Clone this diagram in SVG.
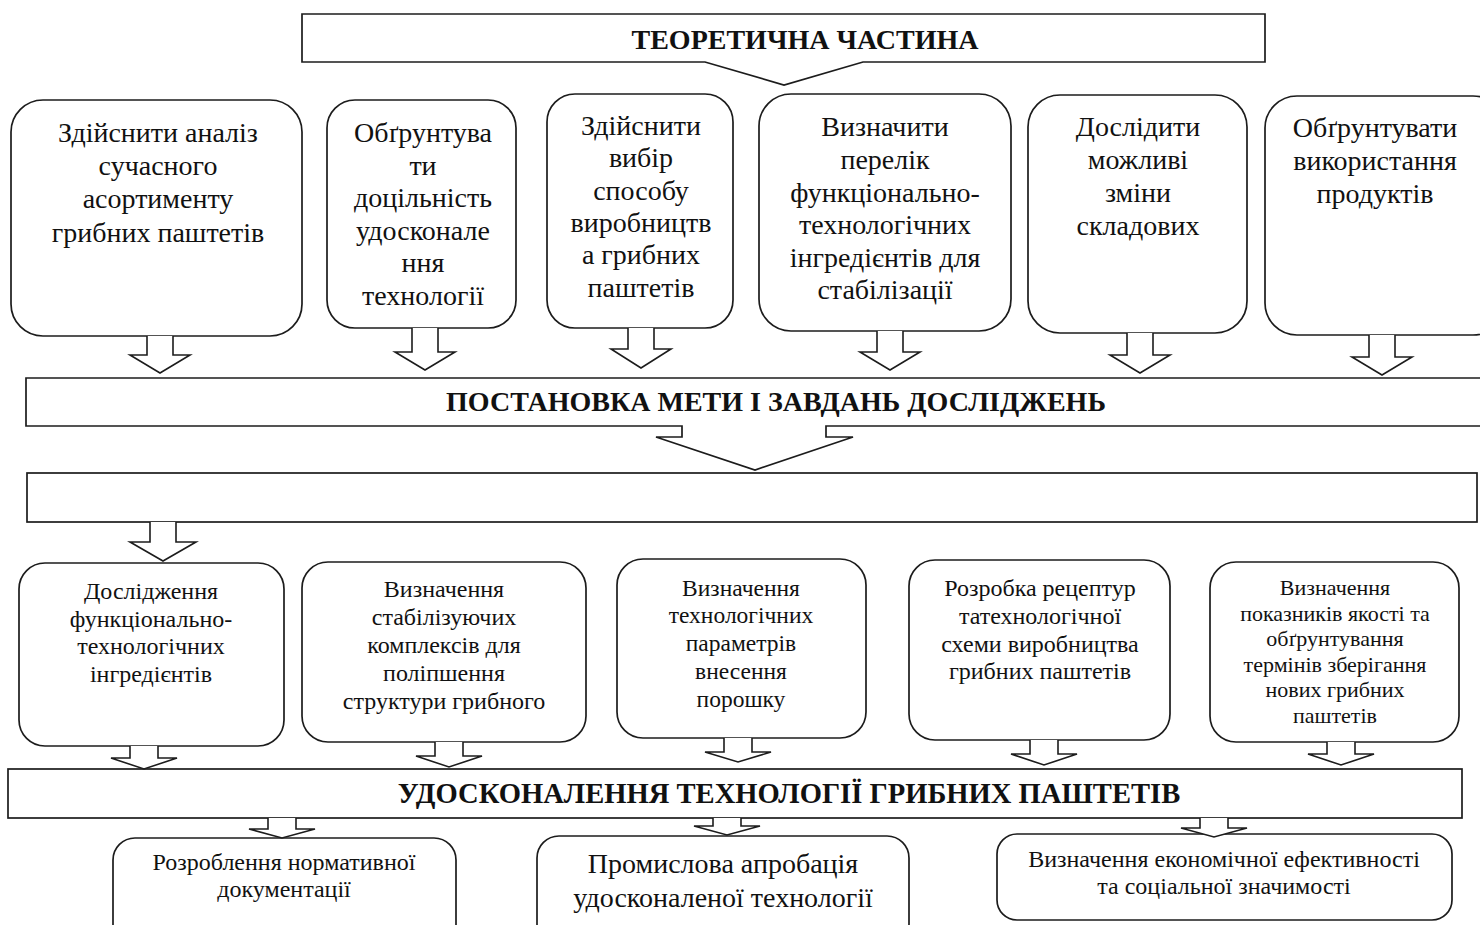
<svg xmlns="http://www.w3.org/2000/svg" width="1480" height="925" viewBox="0 0 1480 925" font-family="Liberation Serif, DejaVu Serif, serif">
  <style>
    .box { fill: #fff; stroke: #1c1c1c; stroke-width: 1.7; }
    .arr { fill: #fff; stroke: #1c1c1c; stroke-width: 1.6; stroke-linejoin: miter; }
    text { font-family: 'Liberation Serif', 'DejaVu Serif', serif; fill: #111; text-anchor: middle; }
    .hdr { font-size: 28px; font-weight: bold; }
    .hdr2 { font-size: 28.6px; font-weight: bold; }
    .t28 { font-size: 28px; }
    .t24 { font-size: 24px; }
    .t23 { font-size: 23.5px; }
    .t22 { font-size: 22px; }
  </style>
  <rect x="0" y="0" width="1480" height="925" fill="#fff"/>

  <!-- header callout -->
  <g id="theory">
    <path class="box" d="M302,14 H1265 V62 H863 L784,85 L705,62 H302 Z"/>
    <text class="hdr" x="805" y="49">ТЕОРЕТИЧНА ЧАСТИНА</text>
  </g>

  <!-- first row of task boxes -->
  <g id="task1">
    <rect class="box" x="11" y="100" width="291" height="236" rx="32"/>
    <text class="t28" x="158"><tspan x="158" y="142">Здійснити аналіз</tspan><tspan x="158" y="175">сучасного</tspan><tspan x="158" y="208">асортименту</tspan><tspan x="158" y="242">грибних паштетів</tspan></text>
  </g>
  <g id="task2">
    <rect class="box" x="327" y="100" width="189" height="228" rx="28"/>
    <text class="t28" x="423"><tspan x="423" y="142">Обґрунтува</tspan><tspan x="423" y="175">ти</tspan><tspan x="423" y="207">доцільність</tspan><tspan x="423" y="240">удосконале</tspan><tspan x="423" y="272">ння</tspan><tspan x="423" y="305">технології</tspan></text>
  </g>
  <g id="task3">
    <rect class="box" x="547" y="94" width="186" height="234" rx="28"/>
    <text class="t28" x="641"><tspan x="641" y="135">Здійснити</tspan><tspan x="641" y="167">вибір</tspan><tspan x="641" y="200">способу</tspan><tspan x="641" y="232">виробництв</tspan><tspan x="641" y="264">а грибних</tspan><tspan x="641" y="297">паштетів</tspan></text>
  </g>
  <g id="task4">
    <rect class="box" x="759" y="94" width="252" height="237" rx="32"/>
    <text class="t28" x="885"><tspan x="885" y="136">Визначити</tspan><tspan x="885" y="169">перелік</tspan><tspan x="885" y="202">функціонально-</tspan><tspan x="885" y="234">технологічних</tspan><tspan x="885" y="267">інгредієнтів для</tspan><tspan x="885" y="299">стабілізації</tspan></text>
  </g>
  <g id="task5">
    <rect class="box" x="1028" y="95" width="219" height="238" rx="32"/>
    <text class="t28" x="1138"><tspan x="1138" y="136">Дослідити</tspan><tspan x="1138" y="169">можливі</tspan><tspan x="1138" y="202">зміни</tspan><tspan x="1138" y="235">складових</tspan></text>
  </g>
  <g id="task6">
    <rect class="box" x="1265" y="96" width="240" height="239" rx="32"/>
    <text class="t28" x="1375"><tspan x="1375" y="137">Обґрунтувати</tspan><tspan x="1375" y="170">використання</tspan><tspan x="1375" y="203">продуктів</tspan></text>
  </g>

  <!-- goal band with callout pointer -->
  <g id="goal">
    <path class="box" d="M1484,378 H26 V426 H682 V437 H656 L755,470 L853,437 H826 V426 H1484"/>
    <text class="hdr" x="776" y="411">ПОСТАНОВКА МЕТИ І ЗАВДАНЬ ДОСЛІДЖЕНЬ</text>
  </g>

  <!-- empty band -->
  <g id="blank-band">
    <rect class="box" x="27" y="473" width="1450" height="49"/>
  </g>

  <!-- second row of research boxes -->
  <g id="study1">
    <rect class="box" x="19" y="563" width="265" height="183" rx="26"/>
    <text class="t24" x="151"><tspan x="151" y="599">Дослідження</tspan><tspan x="151" y="627">функціонально-</tspan><tspan x="151" y="654">технологічних</tspan><tspan x="151" y="682">інгредієнтів</tspan></text>
  </g>
  <g id="study2">
    <rect class="box" x="302" y="562" width="284" height="180" rx="26"/>
    <text class="t24" x="444"><tspan x="444" y="597">Визначення</tspan><tspan x="444" y="625">стабілізуючих</tspan><tspan x="444" y="653">комплексів для</tspan><tspan x="444" y="681">поліпшення</tspan><tspan x="444" y="709">структури грибного</tspan></text>
  </g>
  <g id="study3">
    <rect class="box" x="617" y="559" width="249" height="179" rx="26"/>
    <text class="t23" x="741"><tspan x="741" y="596">Визначення</tspan><tspan x="741" y="623">технологічних</tspan><tspan x="741" y="651">параметрів</tspan><tspan x="741" y="679">внесення</tspan><tspan x="741" y="707">порошку</tspan></text>
  </g>
  <g id="study4">
    <rect class="box" x="909" y="560" width="261" height="180" rx="26"/>
    <text class="t24" x="1040"><tspan x="1040" y="596">Розробка рецептур</tspan><tspan x="1040" y="624">татехнологічної</tspan><tspan x="1040" y="652">схеми виробництва</tspan><tspan x="1040" y="679">грибних паштетів</tspan></text>
  </g>
  <g id="study5">
    <rect class="box" x="1210" y="562" width="249" height="180" rx="26"/>
    <text class="t22" x="1335"><tspan x="1335" y="595">Визначення</tspan><tspan x="1335" y="621">показників якості та</tspan><tspan x="1335" y="646">обґрунтування</tspan><tspan x="1335" y="672">термінів зберігання</tspan><tspan x="1335" y="697">нових грибних</tspan><tspan x="1335" y="723">паштетів</tspan></text>
  </g>

  <!-- improvement band -->
  <g id="improve">
    <rect class="box" x="8" y="769" width="1454" height="49"/>
    <text class="hdr2" x="789" y="803">УДОСКОНАЛЕННЯ ТЕХНОЛОГІЇ ГРИБНИХ ПАШТЕТІВ</text>
  </g>

  <!-- outcome boxes -->
  <g id="outcome1">
    <rect class="box" x="113" y="838" width="343" height="110" rx="22"/>
    <text class="t24" x="284"><tspan x="284" y="870">Розроблення нормативної</tspan><tspan x="284" y="897">документації</tspan></text>
  </g>
  <g id="outcome2">
    <rect class="box" x="537" y="836" width="372" height="110" rx="22"/>
    <text class="t28" x="723"><tspan x="723" y="873">Промислова апробація</tspan><tspan x="723" y="907">удосконаленої технології</tspan></text>
  </g>
  <g id="outcome3">
    <rect class="box" x="997" y="834" width="455" height="86" rx="20"/>
    <text class="t24" x="1224"><tspan x="1224" y="867">Визначення економічної ефективності</tspan><tspan x="1224" y="894">та соціальної значимості</tspan></text>
  </g>

  <!-- block arrows -->
  <g id="connectors">
    <!-- first row into goal band -->
    <path class="arr" d="M147,336 V355 H130 L160,373 L190,355 H173 V336"/>
    <path class="arr" d="M412,328 V352 H395 L425,370 L455,352 H438 V328"/>
    <path class="arr" d="M628,328 V349 H611 L641,368 L671,349 H654 V328"/>
    <path class="arr" d="M877,331 V352 H860 L890,370 L920,352 H903 V331"/>
    <path class="arr" d="M1127,333 V355 H1110 L1140,373 L1170,355 H1153 V333"/>
    <path class="arr" d="M1369,335 V357 H1352 L1382,375 L1412,357 H1395 V335"/>
    <!-- empty band into first study box -->
    <path class="arr" d="M150,522 V542 H130 L163,561 L196,542 H176 V522"/>
    <!-- study boxes into improvement band -->
    <path class="arr" d="M130,746 V758 H111 L144,769 L177,758 H158 V746"/>
    <path class="arr" d="M435,742 V756 H416 L449,767 L482,756 H463 V742"/>
    <path class="arr" d="M724,738 V752 H705 L738,762 L771,752 H752 V738"/>
    <path class="arr" d="M1030,740 V754 H1011 L1044,765 L1077,754 H1058 V740"/>
    <path class="arr" d="M1327,742 V754 H1308 L1341,765 L1374,754 H1355 V742"/>
    <!-- improvement band into outcome boxes -->
    <path class="arr" d="M268,818 V829 H249 L282,838 L315,829 H296 V818"/>
    <path class="arr" d="M713,818 V826 H694 L727,835 L760,826 H741 V818"/>
    <path class="arr" d="M1200,818 V828 H1181 L1214,837 L1247,828 H1228 V818"/>
  </g>
</svg>
